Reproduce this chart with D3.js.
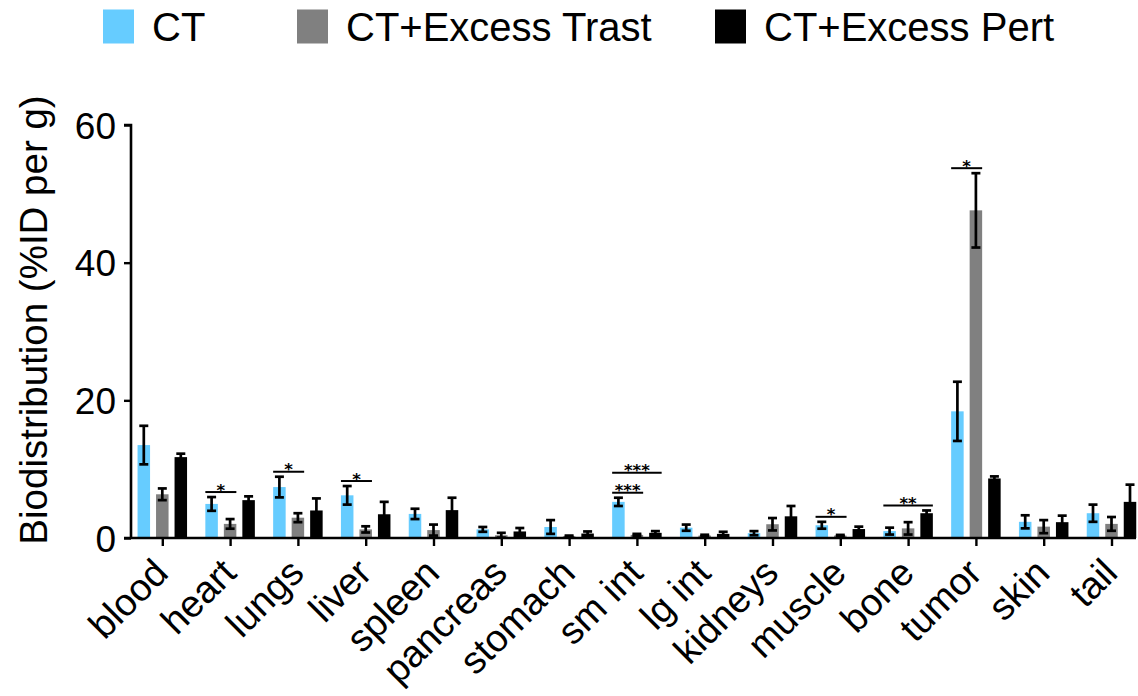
<!DOCTYPE html>
<html>
<head>
<meta charset="utf-8">
<script src="https://cdn.jsdelivr.net/npm/d3@7"></script>
<style>
  html, body { margin: 0; padding: 0; background: #fff; }
  svg { display: block; font-family: "Liberation Sans", Arial, Helvetica, sans-serif; }
</style>
</head>
<body>
<svg id="chart" width="1138" height="696"></svg>
<script>
// Tissue biodistribution, mean ± error per group (%ID per g)
const categories = ["blood", "heart", "lungs", "liver", "spleen", "pancreas", "stomach",
  "sm int", "lg int", "kidneys", "muscle", "bone", "tumor", "skin", "tail"];
const seriesNames = ["CT", "CT+Excess Trast", "CT+Excess Pert"];
const seriesColors = ["#66ccff", "#808080", "#000000"];

const ctValues     = [13.5, 4.95, 7.4, 6.2, 3.5, 1.25, 1.6, 5.25, 1.5, 0.7, 1.85, 1.0, 18.4, 2.35, 3.6];
const ctErrors     = [2.8, 1.0, 1.5, 1.35, 0.75, 0.35, 1.0, 0.6, 0.45, 0.3, 0.5, 0.5, 4.3, 0.95, 1.25];
const trastValues  = [6.35, 2.05, 2.95, 1.25, 1.15, 0.4, 0.25, 0.45, 0.35, 2.0, 0.35, 1.4, 47.6, 1.65, 2.05];
const trastErrors  = [0.85, 0.7, 0.65, 0.45, 0.8, 0.35, 0.1, 0.15, 0.12, 0.9, 0.1, 0.9, 5.4, 0.95, 1.0];
const pertValues   = [11.75, 5.5, 4.0, 3.45, 4.05, 0.95, 0.65, 0.75, 0.6, 3.15, 1.3, 3.6, 8.65, 2.3, 5.25];
const pertErrors   = [0.5, 0.55, 1.75, 1.8, 1.8, 0.5, 0.3, 0.25, 0.3, 1.5, 0.35, 0.4, 0.3, 0.95, 2.5];

const yTicks = [0, 20, 40, 60];

// Significance annotations: tissue, compared groups, label, stacking level
const sigTissue = ["heart", "lungs", "liver", "sm int", "sm int", "muscle", "bone", "tumor"];
const sigFrom   = ["CT", "CT", "CT", "CT", "CT", "CT", "CT", "CT"];
const sigTo     = ["CT+Excess Trast", "CT+Excess Trast", "CT+Excess Trast", "CT+Excess Trast",
                   "CT+Excess Pert", "CT+Excess Trast", "CT+Excess Pert", "CT+Excess Trast"];
const sigLabel  = ["*", "*", "*", "***", "***", "*", "**", "*"];
const sigLevel  = [0, 0, 0, 0, 1, 0, 0, 0];

const valuesBySeries = [ctValues, trastValues, pertValues];
const errorsBySeries = [ctErrors, trastErrors, pertErrors];

const rows = [];
categories.forEach((c, i) => {
  seriesNames.forEach((s, j) => {
    rows.push({ cat: c, series: s, color: seriesColors[j],
      value: valuesBySeries[j][i], err: errorsBySeries[j][i] });
  });
});

const svg = d3.select("#chart");
const FONT = "Liberation Sans, Arial, Helvetica, sans-serif";
const STAR_FONT = "DejaVu Sans, Liberation Sans, sans-serif";

const x = d3.scalePoint().domain(categories).range([162.3, 1111.5]);
const xs = d3.scaleBand().domain(seriesNames).range([-27.75, 27.75])
  .paddingInner(0.324).paddingOuter(0.162);
const y = d3.scaleLinear().domain([0, 60]).range([538, 125]);

const axisLeftX = 131;
const axisRightX = 1136;

// Bars
svg.append("g").selectAll("rect").data(rows).join("rect")
  .attr("x", d => x(d.cat) + xs(d.series))
  .attr("y", d => y(d.value))
  .attr("width", xs.bandwidth())
  .attr("height", d => y(0) - y(d.value))
  .attr("fill", d => d.color);

// Error bars
const eg = svg.append("g").attr("stroke", "#000").attr("stroke-width", 2.7).attr("fill", "none");
rows.forEach(d => {
  const cx = x(d.cat) + xs(d.series) + xs.bandwidth() / 2;
  const top = y(d.value + d.err);
  const bot = y(Math.max(0, d.value - d.err));
  eg.append("line").attr("x1", cx).attr("x2", cx).attr("y1", top).attr("y2", bot);
  eg.append("line").attr("x1", cx - 4.5).attr("x2", cx + 4.5).attr("y1", top).attr("y2", top);
  eg.append("line").attr("x1", cx - 4.5).attr("x2", cx + 4.5).attr("y1", bot).attr("y2", bot);
});

// Y axis
const yAxis = d3.axisLeft(y).tickValues(yTicks).tickSize(7).tickPadding(8).tickFormat(d3.format("d"));
const yg = svg.append("g").attr("transform", `translate(${axisLeftX},0)`).call(yAxis);
yg.select(".domain").attr("stroke", "#000").attr("stroke-width", 2.6)
  .attr("d", `M-7,${y(60)}H0V${y(0)}`);
yg.selectAll(".tick line").attr("stroke", "#000").attr("stroke-width", 2.4);
yg.selectAll(".tick text").attr("font-family", FONT).attr("font-size", 37)
  .attr("fill", "#000").attr("dy", "0.36em");

// X axis
const xAxis = d3.axisBottom(x).tickSize(8).tickFormat("");
const xg = svg.append("g").attr("transform", `translate(0,${y(0)})`).call(xAxis);
xg.select(".domain").attr("stroke", "#000").attr("stroke-width", 2.6)
  .attr("d", `M${axisLeftX - 7},0H${axisRightX}`);
xg.selectAll(".tick line").attr("stroke", "#000").attr("stroke-width", 2.4);

// Rotated category labels
svg.append("g").selectAll("text").data(categories).join("text")
  .attr("transform", d => `translate(${x(d) + 8},${y(0) + 37}) rotate(-45)`)
  .attr("text-anchor", "end")
  .attr("font-family", FONT).attr("font-size", 38).attr("fill", "#000")
  .text(d => d);

// Y axis title
svg.append("text")
  .attr("transform", `translate(47,320) rotate(-90)`)
  .attr("text-anchor", "middle")
  .attr("font-family", FONT).attr("font-size", 38.5).attr("fill", "#000")
  .text("Biodistribution (%ID per g)");

// Significance brackets
const sg = svg.append("g");
sigTissue.forEach((t, k) => {
  const i = categories.indexOf(t);
  const a = seriesNames.indexOf(sigFrom[k]);
  const b = seriesNames.indexOf(sigTo[k]);
  let peak = 0;
  for (let j = a; j <= b; j++) peak = Math.max(peak, valuesBySeries[j][i] + errorsBySeries[j][i]);
  const ly = y(peak) - 5 - 20 * sigLevel[k];
  const x1 = x(t) + xs(sigFrom[k]);
  const x2 = x(t) + xs(sigTo[k]) + xs.bandwidth();
  sg.append("line").attr("x1", x1).attr("x2", x2).attr("y1", ly).attr("y2", ly)
    .attr("stroke", "#000").attr("stroke-width", 2);
  sg.append("text").attr("x", (x1 + x2) / 2).attr("y", ly + 3.5)
    .attr("text-anchor", "middle").attr("font-family", STAR_FONT).attr("font-size", 16.5)
    .attr("font-weight", "bold").attr("fill", "#000").text(sigLabel[k]);
});

// Legend
const legendX = [103, 297, 715];
const lg = svg.append("g");
seriesNames.forEach((s, j) => {
  lg.append("rect").attr("x", legendX[j]).attr("y", 9.5).attr("width", 31).attr("height", 34)
    .attr("fill", seriesColors[j]);
  lg.append("text").attr("x", legendX[j] + 49).attr("y", 41)
    .attr("font-family", FONT).attr("font-size", 40).attr("fill", "#000").text(s);
});
</script>
</body>
</html>
